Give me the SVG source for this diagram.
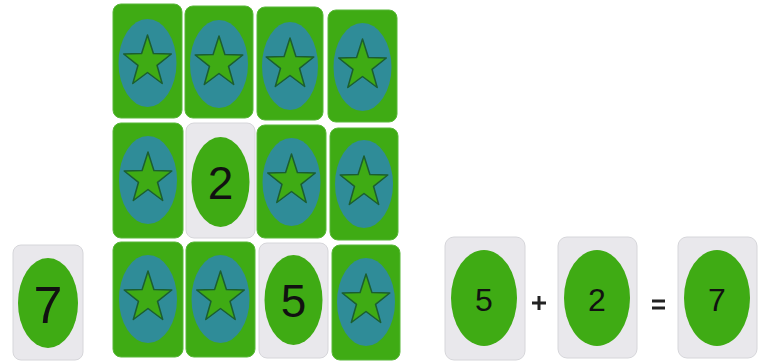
<svg xmlns="http://www.w3.org/2000/svg" xmlns:xlink="http://www.w3.org/1999/xlink" width="765" height="363" viewBox="0 0 765 363">
<style>
.g{fill:#3fab14;stroke:#58b838;stroke-width:1}
.w{fill:#e9e8ec;stroke:#d6d6da;stroke-width:1}
.t{fill:#2f8c98}
.o{fill:#3fab14}
.s{fill:#3fab14;stroke:#1b5e30;stroke-width:1.5;stroke-linejoin:round}
.d{font-family:"Liberation Sans",Arial,sans-serif;fill:#111;text-anchor:middle}
.op{stroke:#222;stroke-width:3}
</style>
<defs>
<polygon id="star" points="0,-27 5.9,-8.5 23.8,-8 9.5,3.3 14.7,21.5 0,10.5 -14.7,21.5 -9.5,3.3 -23.8,-8 -5.9,-8.5"/>
</defs>
<rect width="765" height="363" fill="#fff"/>
<g id="r1c1"><rect class="g" x="113" y="4" width="69" height="114" rx="8"/><ellipse class="t" cx="147.5" cy="63" rx="29" ry="44"/><use href="#star" class="s" x="147.5" y="62"/></g>
<g id="r1c2"><rect class="g" x="185" y="6" width="68" height="112" rx="8"/><ellipse class="t" cx="219" cy="64" rx="29" ry="44"/><use href="#star" class="s" x="219" y="63"/></g>
<g id="r1c3"><rect class="g" x="257" y="7" width="66" height="113" rx="8"/><ellipse class="t" cx="290" cy="66" rx="28" ry="44"/><use href="#star" class="s" x="290" y="65"/></g>
<g id="r1c4"><rect class="g" x="328" y="10" width="69" height="112" rx="8"/><ellipse class="t" cx="362.5" cy="67" rx="29" ry="44"/><use href="#star" class="s" x="362.5" y="66"/></g>
<g id="r2c1"><rect class="g" x="113" y="123" width="70" height="115" rx="8"/><ellipse class="t" cx="148" cy="180" rx="29" ry="44"/><use href="#star" class="s" x="148" y="179"/></g>
<g id="r2c2"><rect class="w" x="186" y="123" width="69" height="115" rx="8"/><ellipse class="o" cx="220.5" cy="182" rx="29" ry="45"/><text class="d" x="220.5" y="199" font-size="46">2</text></g>
<g id="r2c3"><rect class="g" x="257" y="125" width="69" height="113" rx="8"/><ellipse class="t" cx="291.5" cy="182" rx="29" ry="44"/><use href="#star" class="s" x="291.5" y="181"/></g>
<g id="r2c4"><rect class="g" x="330" y="128" width="68" height="112" rx="8"/><ellipse class="t" cx="364" cy="184" rx="29" ry="44"/><use href="#star" class="s" x="364" y="183"/></g>
<g id="r3c1"><rect class="g" x="113" y="242" width="70" height="115" rx="8"/><ellipse class="t" cx="148" cy="299" rx="29" ry="44"/><use href="#star" class="s" x="148" y="298"/></g>
<g id="r3c2"><rect class="g" x="186" y="242" width="69" height="115" rx="8"/><ellipse class="t" cx="220.5" cy="299" rx="29" ry="44"/><use href="#star" class="s" x="220.5" y="298"/></g>
<g id="r3c3"><rect class="w" x="259" y="243" width="69" height="115" rx="8"/><ellipse class="o" cx="293.5" cy="300" rx="29" ry="45"/><text class="d" x="293.5" y="317" font-size="46">5</text></g>
<g id="r3c4"><rect class="g" x="332" y="245" width="68" height="115" rx="8"/><ellipse class="t" cx="366" cy="302" rx="29" ry="44"/><use href="#star" class="s" x="366" y="301"/></g>
<g id="card7"><rect class="w" x="13" y="245" width="70" height="115" rx="8"/><ellipse class="o" cx="48" cy="303" rx="30" ry="45"/><text class="d" x="48" y="323" font-size="52">7</text></g>
<g id="eq5"><rect class="w" x="445" y="237" width="80" height="123" rx="9"/><ellipse class="o" cx="484" cy="298" rx="33" ry="48"/><text class="d" x="484" y="311" font-size="32">5</text></g>
<g id="eq2"><rect class="w" x="558" y="237" width="79" height="121" rx="9"/><ellipse class="o" cx="597" cy="298" rx="33" ry="48"/><text class="d" x="597" y="311" font-size="32">2</text></g>
<g id="eq7"><rect class="w" x="678" y="237" width="79" height="121" rx="9"/><ellipse class="o" cx="717" cy="298" rx="33" ry="48"/><text class="d" x="717" y="311" font-size="32">7</text></g>
<g id="operators">
<path class="op" d="M532,303 H546 M539,296 V310"/>
<path class="op" d="M652,301 H665 M652,308 H665"/>
</g>
</svg>
